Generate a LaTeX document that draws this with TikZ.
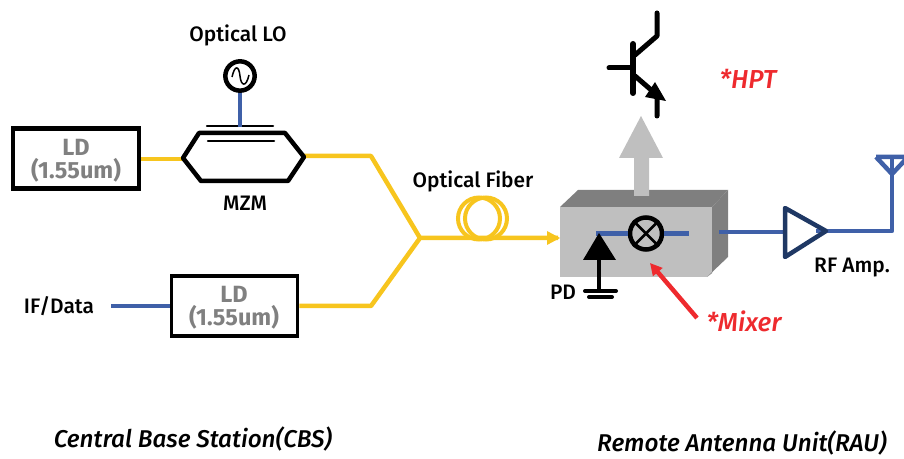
\documentclass[tikz,border=0pt]{standalone}
\usepackage{fontspec}
\setmainfont{Fira Sans}
\newfontfamily\labfont{Fira Sans Medium}
\usetikzlibrary{arrows.meta}
\definecolor{yel}{HTML}{F7C51E}
\definecolor{blu}{HTML}{3F60A8}
\definecolor{navy}{HTML}{1F3864}
\definecolor{redd}{HTML}{EE2A2E}
\definecolor{lgray}{HTML}{BFBFBF}
\definecolor{dgray}{HTML}{7F7F7F}
\tikzset{
  x=0.75pt,y=-0.75pt,
  px/.style={line width=#1*0.75pt},
  ldbox/.style={draw=black,px=4.5,minimum width=94.5pt,minimum height=45pt,inner sep=0pt},
  ldtext/.style={inner sep=0pt,align=center,text=gray,font=\fontsize{17.6}{17.6}\selectfont\bfseries},
  lab/.style={font=\fontsize{15.7}{17}\labfont,text=black,inner sep=0pt},
  titl/.style={font=\fontsize{18.2}{20}\selectfont\labfont\itshape,text=black,inner sep=0pt},
  redlab/.style={font=\fontsize{19.5}{21}\selectfont\labfont\itshape,text=redd,inner sep=0pt},
  yline/.style={draw=yel,px=4.5},
  bline/.style={draw=blu,px=4.5},
  kline/.style={draw=black,line cap=round,line join=round},
  ring/.style={circle,draw=black,px=4.5,minimum size=24pt,inner sep=0pt,fill=none},
}
\begin{document}
\begin{tikzpicture}
\useasboundingbox (0,0) rectangle (904,459);
% block
\fill[lgray] (560,207) -- (712,207) -- (712,273) -- (707,277) -- (560,277) -- cycle;
\fill[dgray] (560,207) -- (578,190) -- (728,190) -- (712,207) -- cycle;
\fill[dgray] (712,207) -- (728,190) -- (728,257) -- (707,277) -- (712,273) -- cycle;
% LD boxes
\node[ldbox] (ld1) at (76,158.5) {};
\node[ldtext] (ld1t) at (76,161) {LD\\(1.55um)};
\node[ldbox,px=3.5] (ld2) at (234.5,306) {};
\node[ldtext] (ld2t) at (234,307.5) {LD\\(1.55um)};
% coordinates of the MZM and the fibre run
\coordinate (mzl) at (183,158);
\coordinate (mzr) at (304,156);
\coordinate (up) at (371,156);
\coordinate (low) at (371,306);
\coordinate (join) at (420,238);
\coordinate (ifend) at (111,306);
% yellow
\draw[yline] (ld1.east |- mzl) ++(0,1) -- (183,159);
\draw[yline,line join=round] (mzr) -- (up) -- (join);
\draw[yline,line join=round] (ld2.east) -- (low) -- (join) -- (558,238);
\fill[yel] (560,238) -- (547,231) -- (547,245) -- cycle;
\draw[yel,px=4] (479,218.5) circle (21);
\draw[yel,px=4] (486,218.5) circle (21);
% MZM
\draw[kline,px=4.5] (mzl) -- (199,133) -- (285,133) -- (304,157) -- (288,181) -- (201,181) -- cycle;
\draw[kline,px=2.5] (207,126) -- (273,126);
\draw[kline,px=2.5] (208,141) -- (274,141);
% LO
\draw[bline] (240,88) -- (240,127);
\node[ring,minimum size=22pt,fill=white] (lo) at (240,76) {};
\draw[black,px=1.5] (232,77) .. controls (235,64) and (239,66) .. (240,76) .. controls (241,86) and (246,88) .. (249,75);
% IF
\draw[bline] (ifend) -- (ld2.west);
% inside block
\node[ring] (mix) at (646,233.5) {};
\draw[black,px=2.5] (mix.north west) -- (mix.south east) (mix.north east) -- (mix.south west);
\draw[bline] (596,233.5) -- (mix.west);
\draw[bline] (mix.east) -- (689,233.5);
\fill[black] (599,233) -- (616,260) -- (583,260) -- cycle;
\draw[kline,px=4] (599,258) -- (599,291);
\draw[kline,px=4] (585,291) -- (616,291);
\draw[kline,px=4] (589,297) -- (612,297);
% grey arrow
\fill[lgray] (641,116) -- (663,158) -- (649,158) -- (649,196) -- (634,196) -- (634,158) -- (619,158) -- cycle;
% transistor
\draw[kline,px=6] (633,44) -- (633,93);
\draw[kline,px=5] (609,68) -- (633,68);
\draw[kline,px=5] (635,55) -- (657,36) -- (657,13);
\draw[kline,px=5] (635,76) -- (657,95) -- (657,116);
\fill[black] (655,82) -- (666,101) -- (645,97) -- cycle;
% RF
\coordinate (ampl) at (785,232);
\coordinate (ampr) at (826,231);
\coordinate (ant) at (892,231);
\draw[bline] (719,232) -- (ampl);
\draw[bline,line join=round] (816,231) -- (ant) -- (892,157);
\draw[navy,px=4.5,line join=round] (785,208) -- (ampr) -- (785,257) -- cycle;
\draw[bline,line join=round] (876,157) -- (908,157) (876,157) -- (892,174) -- (908,157);
% red arrow
\coordinate (mxa) at (697,318);
\coordinate (mxb) at (650,263);
\draw[redd,px=4.5,-{Triangle[length=9pt,width=9pt]}] (mxa) -- (mxb);
% labels
\node[lab] (l1) at (238,35) {Optical LO};
\node[lab] (l2) at (245,203) {MZM};
\node[lab] (l3) at (473,181) {Optical Fiber};
\node[lab] (l4) at (59,306) {IF/Data};
\node[lab] (l5) at (563,292) {PD};
\node[lab] (l6) at (852,268) {RF Amp.};
\node[redlab] (l7) at (748,79) {*HPT};
\node[redlab] (l8) at (744,321) {*Mixer};
\node[titl] (l9) at (193,439) {Central Base Station(CBS)};
\node[titl] (l10) at (742,443) {Remote Antenna Unit(RAU)};
\end{tikzpicture}
\end{document}
